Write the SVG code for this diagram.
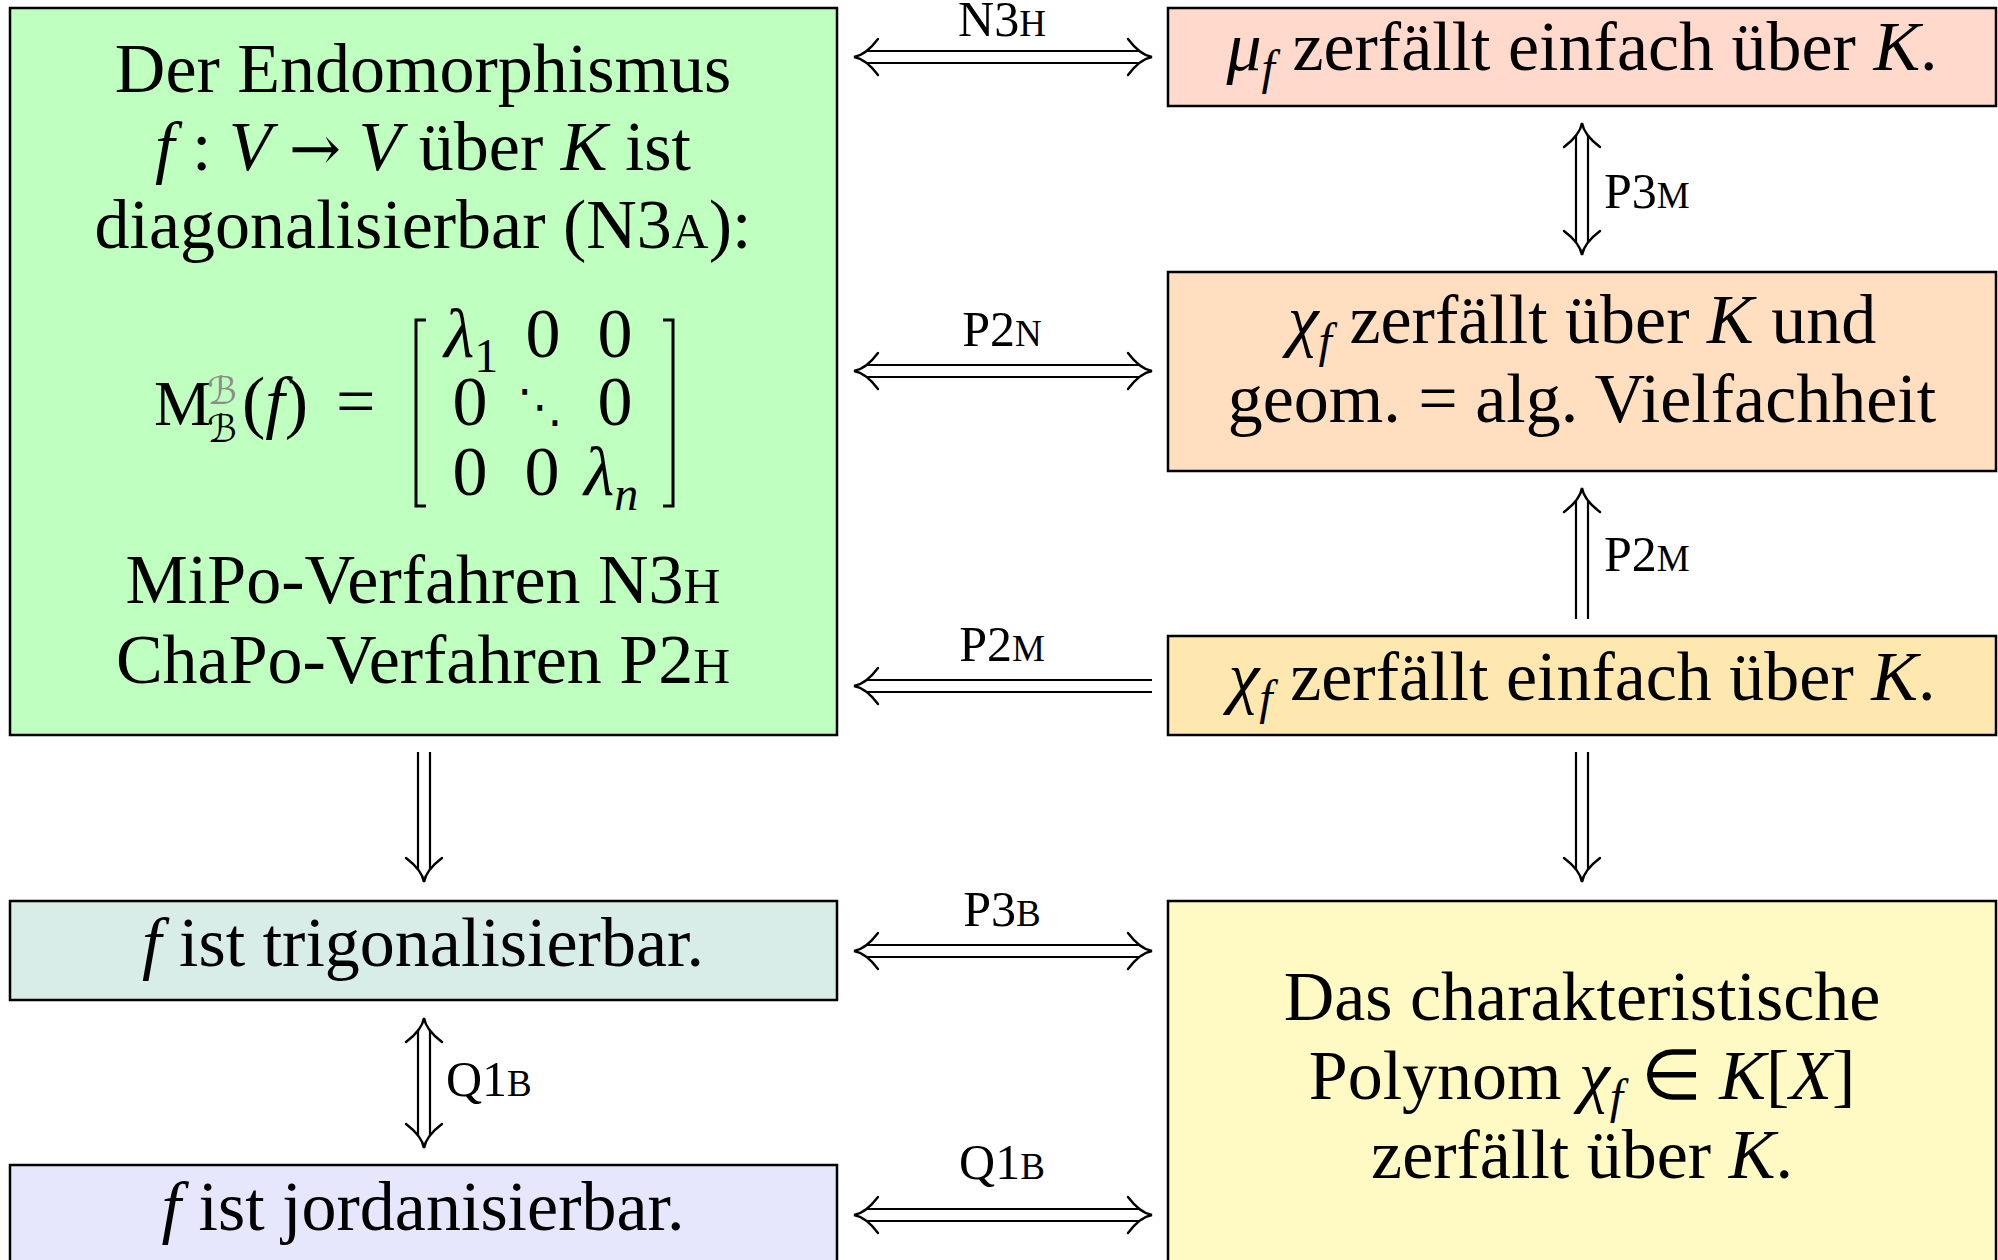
<svg xmlns="http://www.w3.org/2000/svg" xmlns:xlink="http://www.w3.org/1999/xlink" width="1998" height="1260" viewBox="0 0 1998 1260">
<style>
.box{stroke:#000;stroke-width:2.5}
.t{font-family:"Liberation Serif","Times New Roman",serif;font-size:70px;fill:#000;text-anchor:middle}
.lbl{font-family:"Liberation Serif","Times New Roman",serif;font-size:50px;fill:#000;text-anchor:middle}
.vl{text-anchor:start}
.i{font-style:italic}
.sc{font-size:37px}
.scm{font-size:51px}
.sub{font-size:48px}
.dl{stroke:#000;stroke-width:2.2;fill:none}
.hd{stroke:#000;stroke-width:2.4;fill:none;stroke-linecap:round}
.sym{font-family:"DejaVu Serif","DejaVu Sans",serif}
</style>
<defs>
<path id="h" class="hd" d="M24,-18 Q12,-2 0,0 Q12,2 24,18"/>
</defs>

<g id="n-diag">
<rect class="box" x="10" y="8" width="827" height="727" fill="#BFFFBF"/>
<text class="t" x="423" y="92">Der Endomorphismus</text>
<text class="t" x="423" y="170"><tspan class="i">f</tspan> : <tspan class="i">V</tspan> <tspan class="sym" style="font-size:62px">→</tspan> <tspan class="i">V</tspan> über <tspan class="i">K</tspan> ist</text>
<text class="t" x="423" y="248">diagonalisierbar (N3<tspan class="scm">A</tspan>):</text>
<text class="t" x="154" y="425" style="text-anchor:start;font-size:64px">M</text>
<text class="sym i" x="207" y="404" style="font-size:38px;fill:#8c8c8c">ℬ</text>
<text class="sym i" x="207" y="442" style="font-size:38px">ℬ</text>
<text class="t" x="242" y="425" style="text-anchor:start">(<tspan class="i">f</tspan>)</text>
<text class="t" x="336" y="425" style="text-anchor:start">=</text>
<path d="M426,320 H416 V506 H426 M663,320 H673 V506 H663" fill="none" stroke="#000" stroke-width="3"/>
<text class="t" x="444" y="357" style="text-anchor:start"><tspan class="i">λ</tspan><tspan dy="15" style="font-size:48px">1</tspan></text>
<text class="t" x="543" y="357">0</text>
<text class="t" x="615" y="357">0</text>
<text class="t" x="470" y="425">0</text>
<text class="t sym" x="540" y="422" style="font-size:46px">⋱</text>
<text class="t" x="615" y="425">0</text>
<text class="t" x="470" y="495">0</text>
<text class="t" x="542" y="495">0</text>
<text class="t" x="584" y="495" style="text-anchor:start"><tspan class="i">λ</tspan><tspan class="i" dy="15" style="font-size:48px">n</tspan></text>
<text class="t" x="423" y="603">MiPo-Verfahren N3<tspan class="scm">H</tspan></text>
<text class="t" x="423" y="683">ChaPo-Verfahren P2<tspan class="scm">H</tspan></text>
</g>

<g id="n-mu">
<rect class="box" x="1168" y="8" width="828" height="98" fill="#FFD9CC"/>
<text class="t" x="1582" y="70"><tspan class="i">μ</tspan><tspan class="i sub" dy="14">f</tspan><tspan dy="-14"> zerfällt einfach über </tspan><tspan class="i">K</tspan>.</text>
</g>

<g id="n-chi-geom">
<rect class="box" x="1168" y="272" width="828" height="199" fill="#FFDFC0"/>
<text class="t" x="1582" y="343"><tspan class="i">χ</tspan><tspan class="i sub" dy="14">f</tspan><tspan dy="-14"> zerfällt über </tspan><tspan class="i">K</tspan> und</text>
<text class="t" x="1582" y="422">geom. = alg. Vielfachheit</text>
</g>

<g id="n-chi-einfach">
<rect class="box" x="1168" y="636" width="828" height="99" fill="#FFE8B0"/>
<text class="t" x="1582" y="700"><tspan class="i">χ</tspan><tspan class="i sub" dy="14">f</tspan><tspan dy="-14"> zerfällt einfach über </tspan><tspan class="i">K</tspan>.</text>
</g>

<g id="n-trig">
<rect class="box" x="10" y="901" width="827" height="99" fill="#D8ECE8"/>
<text class="t" x="423" y="966"><tspan class="i">f</tspan> ist trigonalisierbar.</text>
</g>

<g id="n-jordan">
<rect class="box" x="10" y="1165" width="827" height="140" fill="#E6E6FC"/>
<text class="t" x="423" y="1230"><tspan class="i">f</tspan> ist jordanisierbar.</text>
</g>

<g id="n-charpoly">
<rect class="box" x="1168" y="901" width="828" height="404" fill="#FFF9C4"/>
<text class="t" x="1582" y="1020">Das charakteristische</text>
<text class="t" x="1582" y="1099">Polynom <tspan class="i">χ</tspan><tspan class="i sub" dy="14">f</tspan><tspan dy="-14"> ∈ </tspan><tspan class="i">K</tspan>[<tspan class="i">X</tspan>]</text>
<text class="t" x="1582" y="1178">zerfällt über <tspan class="i">K</tspan>.</text>
</g>

<g id="connectors">
<g id="e-n3h">
<path class="dl" d="M867,51 H1139 M867,63 H1139"/>
<use href="#h" xlink:href="#h" transform="translate(854,57)"/>
<use href="#h" xlink:href="#h" transform="translate(1152,57) rotate(180)"/>
<text class="lbl" x="1002" y="36">N3<tspan class="sc">H</tspan></text>
</g>
<g id="e-p2n">
<path class="dl" d="M867,365 H1139 M867,377 H1139"/>
<use href="#h" xlink:href="#h" transform="translate(854,371)"/>
<use href="#h" xlink:href="#h" transform="translate(1152,371) rotate(180)"/>
<text class="lbl" x="1002" y="346">P2<tspan class="sc">N</tspan></text>
</g>
<g id="e-p2m-h">
<path class="dl" d="M867,680 H1152 M867,692 H1152"/>
<use href="#h" xlink:href="#h" transform="translate(854,686)"/>
<text class="lbl" x="1002" y="661">P2<tspan class="sc">M</tspan></text>
</g>
<g id="e-p3b">
<path class="dl" d="M867,945 H1139 M867,957 H1139"/>
<use href="#h" xlink:href="#h" transform="translate(854,951)"/>
<use href="#h" xlink:href="#h" transform="translate(1152,951) rotate(180)"/>
<text class="lbl" x="1002" y="926">P3<tspan class="sc">B</tspan></text>
</g>
<g id="e-q1b-h">
<path class="dl" d="M867,1209 H1139 M867,1221 H1139"/>
<use href="#h" xlink:href="#h" transform="translate(854,1215)"/>
<use href="#h" xlink:href="#h" transform="translate(1152,1215) rotate(180)"/>
<text class="lbl" x="1002" y="1179">Q1<tspan class="sc">B</tspan></text>
</g>
<g id="e-p3m">
<path class="dl" d="M1576,136 V242 M1588,136 V242"/>
<use href="#h" xlink:href="#h" transform="translate(1582,123) rotate(90)"/>
<use href="#h" xlink:href="#h" transform="translate(1582,255) rotate(-90)"/>
<text class="lbl vl" x="1604" y="208">P3<tspan class="sc">M</tspan></text>
</g>
<g id="e-p2m-v">
<path class="dl" d="M1576,501 V619 M1588,501 V619"/>
<use href="#h" xlink:href="#h" transform="translate(1582,488) rotate(90)"/>
<text class="lbl vl" x="1604" y="571">P2<tspan class="sc">M</tspan></text>
</g>
<g id="e-diag-trig">
<path class="dl" d="M418,752 V869 M430,752 V869"/>
<use href="#h" xlink:href="#h" transform="translate(424,882) rotate(-90)"/>
</g>
<g id="e-einfach-charpoly">
<path class="dl" d="M1576,752 V869 M1588,752 V869"/>
<use href="#h" xlink:href="#h" transform="translate(1582,882) rotate(-90)"/>
</g>
<g id="e-q1b-v">
<path class="dl" d="M418,1031 V1135 M430,1031 V1135"/>
<use href="#h" xlink:href="#h" transform="translate(424,1018) rotate(90)"/>
<use href="#h" xlink:href="#h" transform="translate(424,1148) rotate(-90)"/>
<text class="lbl vl" x="446" y="1096">Q1<tspan class="sc">B</tspan></text>
</g>
</g>
</svg>
